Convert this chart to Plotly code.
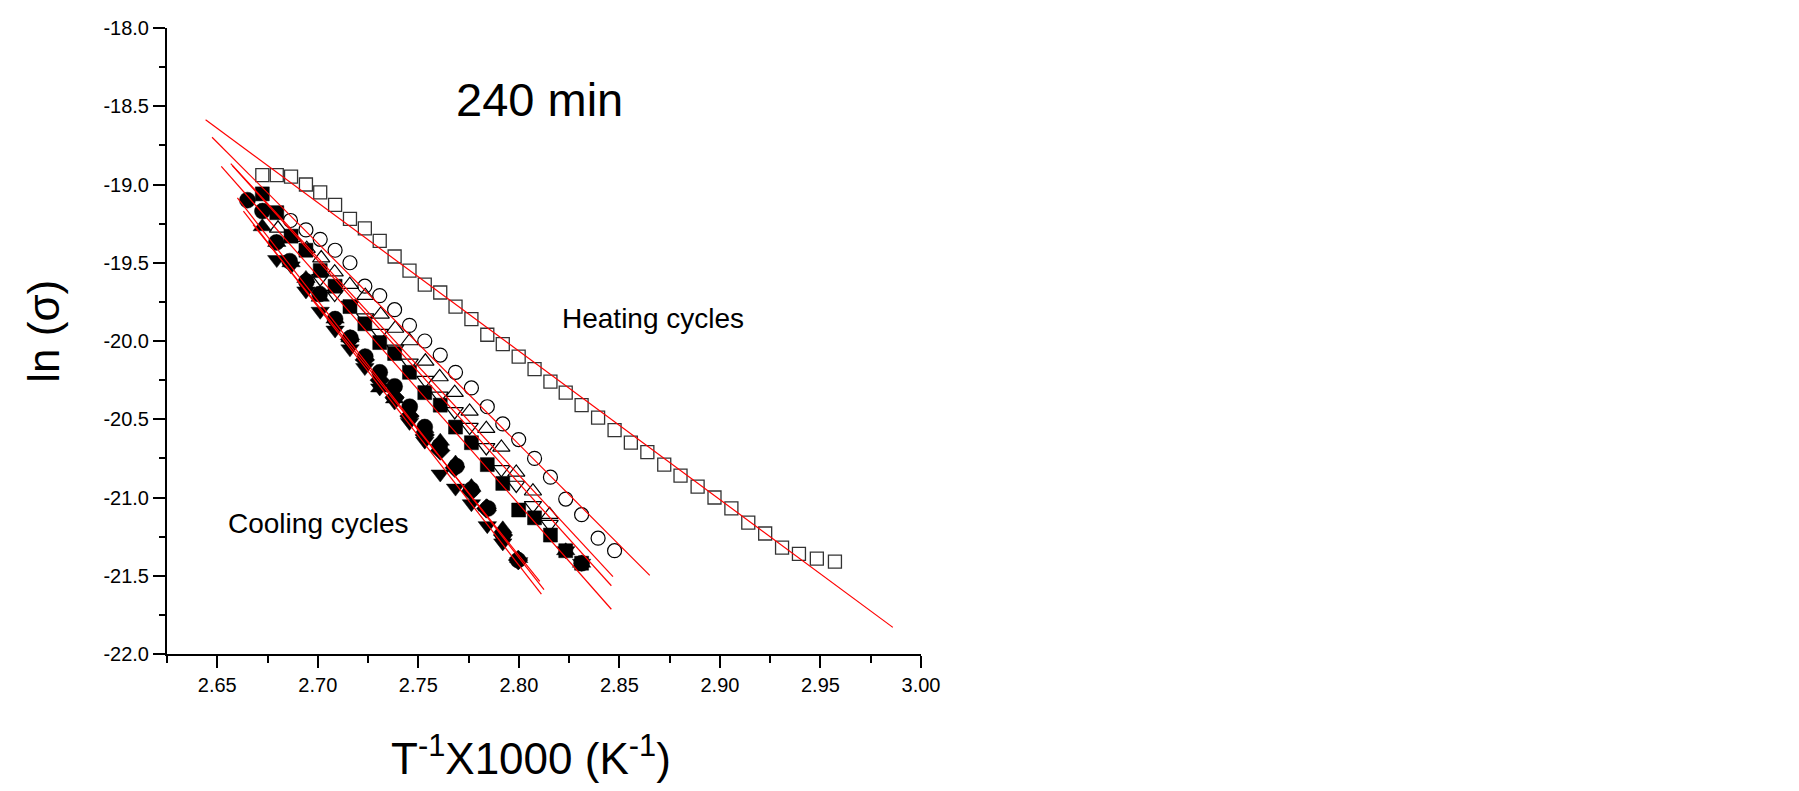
import plotly.graph_objects as go

# ---------------- data ----------------
# Heating cycles (open symbols)
heat_sq_x = [2.6724, 2.6796, 2.6867, 2.6941, 2.7012, 2.7086, 2.7160, 2.7234, 2.7308, 2.7382,
             2.7456, 2.7532, 2.7609, 2.7685, 2.7764, 2.7843, 2.7920, 2.7999, 2.8078, 2.8157,
             2.8233, 2.8312, 2.8394, 2.8476, 2.8557, 2.8639, 2.8723, 2.8804, 2.8889, 2.8973,
             2.9057, 2.9141, 2.9225, 2.9309, 2.9393, 2.9482, 2.9572]
heat_sq_y = [-18.94, -18.94, -18.95, -19.00, -19.05, -19.13, -19.22, -19.28, -19.36, -19.46,
             -19.55, -19.64, -19.69, -19.78, -19.86, -19.96, -20.02, -20.10, -20.18, -20.26,
             -20.33, -20.41, -20.49, -20.57, -20.65, -20.71, -20.79, -20.86, -20.93, -21.00,
             -21.07, -21.16, -21.23, -21.32, -21.36, -21.39, -21.41]

heat_ci_x = [2.6864, 2.6941, 2.7012, 2.7086, 2.7160, 2.7234, 2.7308, 2.7382, 2.7456, 2.7532,
             2.7609, 2.7685, 2.7764, 2.7843, 2.7920, 2.7999, 2.8078, 2.8157, 2.8233, 2.8312,
             2.8394, 2.8476]
heat_ci_y = [-19.23, -19.29, -19.35, -19.42, -19.50, -19.65, -19.71, -19.80, -19.90, -20.00,
             -20.09, -20.20, -20.30, -20.42, -20.53, -20.63, -20.75, -20.87, -21.01, -21.11,
             -21.26, -21.34]

heat_tu_x = [2.6802, 2.6875, 2.6945, 2.7017, 2.7084, 2.7159, 2.7236, 2.7313, 2.7385, 2.7457,
             2.7535, 2.7606, 2.7681, 2.7755, 2.7838, 2.7913, 2.7987, 2.8070, 2.8153]
heat_tu_y = [-19.28, -19.34, -19.41, -19.47, -19.56, -19.64, -19.71, -19.83, -19.92, -20.00,
             -20.13, -20.23, -20.33, -20.45, -20.56, -20.68, -20.84, -20.96, -21.11]

heat_td_x = [2.7012, 2.7084, 2.7160, 2.7236, 2.7308, 2.7385, 2.7457, 2.7535, 2.7606, 2.7681,
             2.7755, 2.7838, 2.7913, 2.7987, 2.8070, 2.8153]
heat_td_y = [-19.60, -19.70, -19.77, -19.85, -19.95, -20.05, -20.14, -20.25, -20.35, -20.45,
             -20.55, -20.68, -20.82, -20.92, -21.05, -21.17]

# Cooling cycles (filled symbols)
cool_sq_x = [2.6724, 2.6796, 2.6867, 2.6941, 2.7012, 2.7086, 2.7160, 2.7234, 2.7308, 2.7382,
             2.7456, 2.7532, 2.7609, 2.7685, 2.7764, 2.7843, 2.7920, 2.7999, 2.8078, 2.8157,
             2.8233, 2.8312]
cool_sq_y = [-19.06, -19.18, -19.33, -19.42, -19.55, -19.65, -19.78, -19.89, -20.01, -20.08,
             -20.20, -20.33, -20.41, -20.55, -20.65, -20.79, -20.91, -21.08, -21.13, -21.24,
             -21.34, -21.42]

cool_ci_x = [2.6650, 2.6725, 2.6794, 2.6860, 2.6943, 2.7009, 2.7086, 2.7162, 2.7236, 2.7308,
             2.7382, 2.7457, 2.7532, 2.7606, 2.7689, 2.7763, 2.7847, 2.7921, 2.7996, 2.8312]
cool_ci_y = [-19.10, -19.17, -19.37, -19.49, -19.62, -19.70, -19.86, -19.98, -20.10, -20.20,
             -20.29, -20.42, -20.55, -20.67, -20.80, -20.95, -21.07, -21.24, -21.40, -21.42]

cool_tu_x = [2.6724, 2.6796, 2.6867, 2.6941, 2.7012, 2.7086, 2.7160, 2.7234, 2.7308, 2.7382,
             2.7456, 2.7532, 2.7609, 2.7685, 2.7764, 2.7843, 2.7920, 2.7999, 2.8233, 2.8312]
cool_tu_y = [-19.27, -19.37, -19.50, -19.60, -19.72, -19.86, -19.98, -20.10, -20.30, -20.37,
             -20.46, -20.56, -20.64, -20.78, -20.93, -21.06, -21.20, -21.39, -21.34, -21.42]

cool_td_x = [2.6796, 2.6867, 2.6941, 2.7012, 2.7086, 2.7160, 2.7234, 2.7308, 2.7382, 2.7456,
             2.7532, 2.7609, 2.7685, 2.7764, 2.7843, 2.7920, 2.7999, 2.8233, 2.8312]
cool_td_y = [-19.48, -19.52, -19.68, -19.81, -19.93, -20.05, -20.17, -20.30, -20.39, -20.52,
             -20.64, -20.85, -20.94, -21.04, -21.18, -21.29, -21.41, -21.34, -21.42]

cool_di_x = [2.7160, 2.7234, 2.7308, 2.7382, 2.7456, 2.7532, 2.7609, 2.7681, 2.7763, 2.7838,
             2.7921, 2.7996]
cool_di_y = [-19.99, -20.12, -20.25, -20.36, -20.48, -20.60, -20.70, -20.81, -20.96, -21.07,
             -21.24, -21.40]

# Linear fits (start / end points)
fit_x0 = [2.6442, 2.6474, 2.6567, 2.6575, 2.6520, 2.6600, 2.6678, 2.6630]
fit_y0 = [-18.586, -18.698, -18.867, -18.880, -18.884, -19.086, -19.257, -19.170]
fit_x1 = [2.9860, 2.8651, 2.8468, 2.8460, 2.8460, 2.8125, 2.8104, 2.8112]
fit_y1 = [-21.830, -21.498, -21.506, -21.564, -21.714, -21.589, -21.536, -21.617]

x_ticks = [2.65, 2.70, 2.75, 2.80, 2.85, 2.90, 2.95, 3.00]
x_tick_text = ["2.65", "2.70", "2.75", "2.80", "2.85", "2.90", "2.95", "3.00"]
y_ticks = [-18.0, -18.5, -19.0, -19.5, -20.0, -20.5, -21.0, -21.5, -22.0]
y_tick_text = ["-18.0", "-18.5", "-19.0", "-19.5", "-20.0", "-20.5", "-21.0", "-21.5", "-22.0"]

# ---------------- figure ----------------
FONT = "Liberation Sans, Arial, sans-serif"
fig = go.Figure()


def add_markers(x, y, symbol, size, fill, lw):
    fig.add_trace(go.Scatter(
        x=x, y=y, mode="markers", showlegend=False, hoverinfo="skip",
        marker=dict(symbol=symbol, size=size, color=fill,
                    line=dict(color="black", width=lw))))


add_markers(heat_sq_x, heat_sq_y, "square-open", 13, "#333333", 1.3)
add_markers(heat_ci_x, heat_ci_y, "circle-open", 14, "black", 1.2)
add_markers(heat_tu_x, heat_tu_y, "triangle-up-open", 15, "black", 1.2)
add_markers(heat_td_x, heat_td_y, "triangle-down-open", 15, "black", 1.2)

add_markers(cool_sq_x, cool_sq_y, "square", 14, "black", 0.5)
add_markers(cool_ci_x, cool_ci_y, "circle", 16, "black", 0.5)
add_markers(cool_tu_x, cool_tu_y, "triangle-up", 16, "black", 0.5)
add_markers(cool_td_x, cool_td_y, "triangle-down", 16, "black", 0.5)
add_markers(cool_di_x, cool_di_y, "diamond", 15, "black", 0.5)

for x0, y0, x1, y1 in zip(fit_x0, fit_y0, fit_x1, fit_y1):
    fig.add_trace(go.Scatter(x=[x0, x1], y=[y0, y1], mode="lines", showlegend=False,
                             hoverinfo="skip", line=dict(color="red", width=1.2)))

fig.add_annotation(x=2.8104, y=-18.457, text="240 min", showarrow=False,
                   font=dict(family=FONT, size=47, color="black"))
fig.add_annotation(x=2.8666, y=-19.858, text="Heating cycles", showarrow=False,
                   font=dict(family=FONT, size=28, color="black"))
fig.add_annotation(x=2.7004, y=-21.169, text="Cooling cycles", showarrow=False,
                   font=dict(family=FONT, size=28, color="black"))

fig.add_annotation(xref="paper", yref="paper", x=-0.163, y=0.515, text="ln (σ)",
                   textangle=-90, showarrow=False, xanchor="center", yanchor="middle",
                   font=dict(family=FONT, size=44, color="black"))
fig.add_annotation(xref="paper", yref="paper", x=0.483, y=-0.162,
                   text="T<sup>-1</sup>X1000 (K<sup>-1</sup>)",
                   showarrow=False, xanchor="center", yanchor="middle",
                   font=dict(family=FONT, size=44, color="black"))

axis_common = dict(showline=True, linecolor="black", linewidth=2, ticks="outside",
                   ticklen=12, tickwidth=2, tickcolor="black", showgrid=False,
                   zeroline=False, mirror=False, automargin=False,
                   tickfont=dict(family=FONT, size=20, color="black"))

fig.update_xaxes(range=[2.625, 3.0], tickvals=x_ticks, ticktext=x_tick_text,
                 minor=dict(ticks="outside", ticklen=7, tickwidth=2, tickcolor="black",
                            dtick=0.025, tick0=2.625, showgrid=False),
                 **axis_common)
fig.update_yaxes(range=[-22.0, -18.0], tickvals=y_ticks, ticktext=y_tick_text,
                 minor=dict(ticks="outside", ticklen=6, tickwidth=2, tickcolor="black",
                            dtick=0.25, tick0=-22.0, showgrid=False),
                 **axis_common)

fig.update_layout(width=1799, height=791, plot_bgcolor="white", paper_bgcolor="white",
                  margin=dict(l=159, r=886, t=20, b=145, autoexpand=False),
                  showlegend=False)

fig.write_html("out.html")
